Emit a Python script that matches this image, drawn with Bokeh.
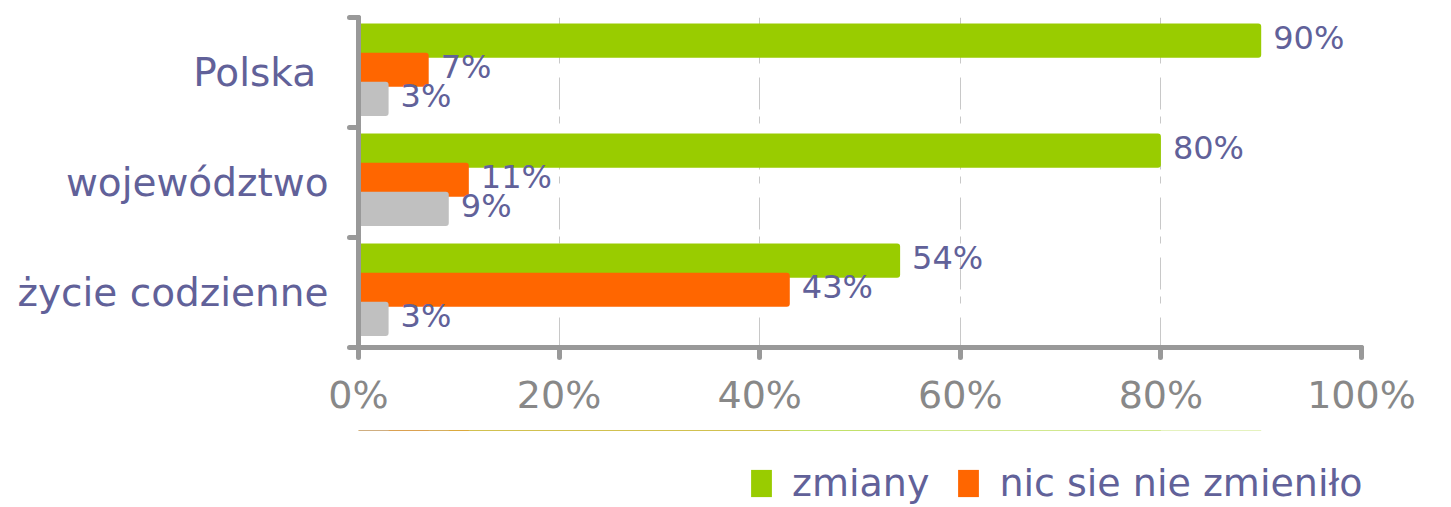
from bokeh.plotting import figure
from bokeh.layouts import column
from bokeh.models import Range1d, FixedTicker, Legend, LegendItem, ColumnDataSource
from bokeh.core.properties import value
from bokeh.embed import file_html
from bokeh.resources import INLINE

categories = ["Polska ", "województwo", "życie codzienne"]
series_names = ["zmiany", "nic sie nie zmieniło", "trudno powiedzieć"]
zmiany = [90, 80, 54]
nic_sie_nie_zmienilo = [7, 11, 43]
trudno_powiedziec = [3, 9, 3]
x_ticks = [0, 20, 40, 60, 80, 100]
x_tick_labels = ["0%", "20%", "40%", "60%", "80%", "100%"]

series_values = [zmiany, nic_sie_nie_zmienilo, trudno_powiedziec]
colors = ["#99CC00", "#FF6600", "#C0C0C0"]
offsets = [-0.29, -0.025, 0.24]
PURPLE = "#616199"
AXIS = "#999999"
FONT = "DejaVu Sans"
n = len(categories)

p = figure(width=1435, height=430, output_backend="svg", toolbar_location=None,
           x_range=Range1d(0, 100), y_range=Range1d(n, 0),
           min_border_left=358, min_border_right=74, min_border_top=17,
           min_border_bottom=83)
p.outline_line_color = None
p.background_fill_color = "white"

sources = []
for vals, col, off, name in zip(series_values, colors, offsets, series_names):
    ys = [i + 0.5 + off for i in range(n)]
    src = ColumnDataSource(dict(y=ys, right=vals, label=[f"{v}%" for v in vals]))
    sources.append(src)
    p.hbar(y="y", right="right", left=0, height=0.31, source=src,
           fill_color=col, line_color=None, border_radius=3)
    p.text(x="right", y="y", text="label", source=src, x_offset=12, y_offset=-3,
           text_baseline="middle", text_align="left", text_color=PURPLE,
           text_font=value(FONT), text_font_size="32px")

# x axis
xa = p.xaxis[0]
xa.ticker = FixedTicker(ticks=x_ticks)
xa.major_label_overrides = {t: l for t, l in zip(x_ticks, x_tick_labels)}
xa.axis_line_color = AXIS
xa.axis_line_width = 5
xa.axis_line_cap = "round"
xa.major_tick_line_color = AXIS
xa.major_tick_line_width = 5
xa.major_tick_line_cap = "round"
xa.major_tick_out = 10
xa.major_tick_in = 0
xa.minor_tick_line_color = None
xa.major_label_text_color = "#888888"
xa.major_label_text_font = FONT
xa.major_label_text_font_size = "38px"
xa.major_label_standoff = 15

# y axis
ya = p.yaxis[0]
ya.ticker = FixedTicker(ticks=[i + 0.5 for i in range(n)],
                        minor_ticks=list(range(n + 1)))
ya.major_label_overrides = {i + 0.5: c for i, c in enumerate(categories)}
ya.axis_line_color = AXIS
ya.axis_line_width = 5
ya.axis_line_cap = "round"
ya.major_tick_line_color = None
ya.major_tick_out = 0
ya.major_tick_in = 0
ya.minor_tick_line_color = AXIS
ya.minor_tick_line_width = 5
ya.minor_tick_line_cap = "round"
ya.minor_tick_out = 9
ya.minor_tick_in = 0
ya.major_label_text_color = PURPLE
ya.major_label_text_font = FONT
ya.major_label_text_font_size = "39px"
ya.major_label_standoff = 21

p.xgrid.ticker = FixedTicker(ticks=x_ticks)
p.xgrid.grid_line_color = "#c8c8c8"
p.xgrid.grid_line_width = 1
p.xgrid.grid_line_dash = "32 7 7 14"
p.ygrid.grid_line_color = None

# legend strip below the chart (same series, bars kept out of its view)
p2 = figure(width=1435, height=75, output_backend="svg", toolbar_location=None,
            x_range=Range1d(0, 100), y_range=Range1d(-20, -10),
            x_axis_type=None, y_axis_type=None, min_border=0)
p2.outline_line_color = None
p2.xgrid.grid_line_color = None
p2.ygrid.grid_line_color = None
leg_renderers = []
for src, col, name in zip(sources, colors, series_names):
    r = p2.hbar(y="y", right="right", left=0, height=0.31, source=src,
                fill_color=col, line_color=None)
    leg_renderers.append((name, r))

legend = Legend(items=[LegendItem(label=nm, renderers=[r]) for nm, r in leg_renderers],
                orientation="horizontal", location=(390, 0),
                glyph_width=26, glyph_height=34, label_standoff=18, spacing=26,
                label_text_font=FONT, label_text_font_size="38px",
                label_text_color=PURPLE, border_line_color=None,
                background_fill_alpha=0, padding=0, margin=0)
p2.add_layout(legend, "center")

open("out.html", "w").write(file_html(column(p, p2, spacing=0), INLINE))
